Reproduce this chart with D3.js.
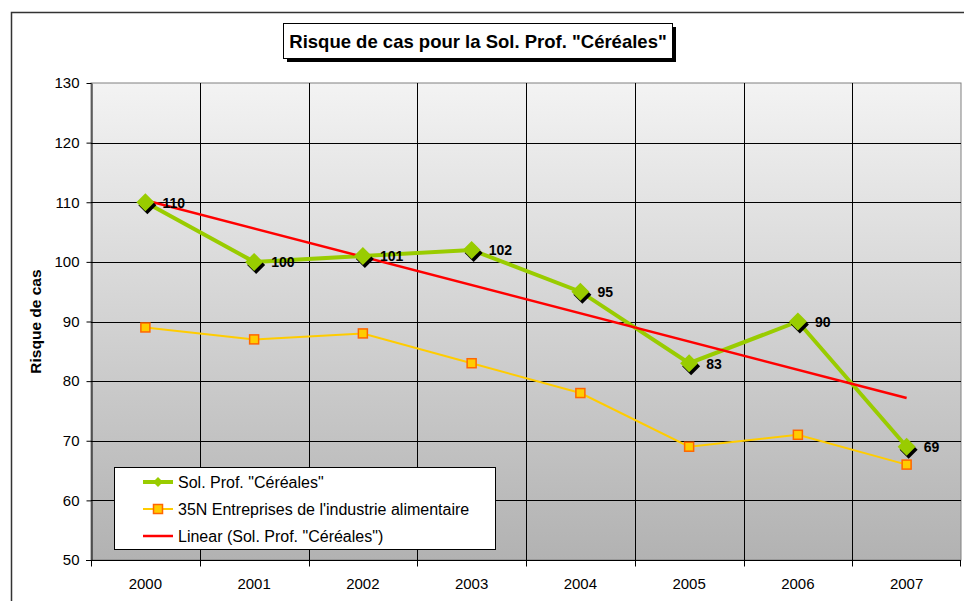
<!DOCTYPE html>
<html><head><meta charset="utf-8">
<script src="https://cdn.jsdelivr.net/npm/d3@7/dist/d3.min.js"></script>
<style>body{margin:0;background:#fff}svg{display:block;font-family:Arial,"Liberation Sans",sans-serif}</style>
</head><body><svg id="c" width="964" height="601"></svg>
<script>
const years = ["2000","2001","2002","2003","2004","2005","2006","2007"];
const cereales = [110,100,101,102,95,83,90,69];
const industrie = [89,87,88,83,78,69,71,66];
const yTicks = [50,60,70,80,90,100,110,120,130];
const titleText = 'Risque de cas pour la Sol. Prof. "Céréales"';
const yLabel = "Risque de cas";
const legendLabels = ['Sol. Prof. "Céréales"', "35N Entreprises de l'industrie alimentaire", 'Linear (Sol. Prof. "Céréales")'];

const FF = "Arial, 'Liberation Sans', sans-serif";
const svg = d3.select("#c");
const L=91,R=961,T=83,B=560;
const x = d3.scaleBand().domain(years).range([L,R]);
const y = d3.scaleLinear().domain([50,130]).range([B,T]);
const cx = d => x(d)+x.bandwidth()/2;

// outer border
svg.append("rect").attr("x",11.5).attr("y",12.5).attr("width",970).attr("height",620)
  .attr("fill","#fff").attr("stroke","#333").attr("stroke-width",1.5);

// gradient
const defs = svg.append("defs");
const g = defs.append("linearGradient").attr("id","bg").attr("x1",0).attr("y1",0).attr("x2",0).attr("y2",1);
g.append("stop").attr("offset","0%").attr("stop-color","#f3f3f3");
g.append("stop").attr("offset","100%").attr("stop-color","#b2b2b2");
svg.append("rect").attr("x",L).attr("y",T).attr("width",R-L).attr("height",B-T).attr("fill","url(#bg)")
  .attr("stroke","#808080").attr("stroke-width",1);

// gridlines
svg.append("g").selectAll("line").data(yTicks.slice(1,-1)).join("line")
  .attr("x1",L).attr("x2",R).attr("y1",d=>Math.round(y(d))+0.5).attr("y2",d=>Math.round(y(d))+0.5)
  .attr("stroke","#000").attr("stroke-width",1);
svg.append("g").selectAll("line").data(years.slice(1)).join("line")
  .attr("x1",d=>Math.round(x(d))+0.5).attr("x2",d=>Math.round(x(d))+0.5).attr("y1",T).attr("y2",B)
  .attr("stroke","#000").attr("stroke-width",1);

// axes
const ya = svg.append("g").attr("transform",`translate(${L+0.5},0)`)
  .call(d3.axisLeft(y).tickValues(yTicks).tickSize(5).tickPadding(7).tickSizeOuter(0));
ya.attr("font-family",FF).attr("font-size",15);
ya.select(".domain").attr("stroke","#000");
ya.selectAll("text").attr("fill","#000");
ya.selectAll("line").attr("stroke","#000");

const xa = svg.append("g").attr("transform",`translate(0,${B+0.5})`).attr("font-family",FF);
xa.append("line").attr("x1",L-5).attr("x2",R).attr("stroke","#000");
xa.selectAll("line.t").data(years.concat(["end"])).join("line").attr("class","t")
  .attr("x1",(d,i)=> i<years.length? Math.round(x(d))+0.5 : R-0.5)
  .attr("x2",(d,i)=> i<years.length? Math.round(x(d))+0.5 : R-0.5)
  .attr("y1",0).attr("y2",6).attr("stroke","#000");
xa.selectAll("text").data(years).join("text").attr("x",d=>cx(d)).attr("y",28)
  .attr("text-anchor","middle").attr("font-size",15).text(d=>d);

// y label
svg.append("text").attr("transform",`translate(41,${(T+B)/2}) rotate(-90)`).attr("text-anchor","middle")
  .attr("font-size",15.5).attr("font-weight","bold").text(yLabel);

// industrie line
const line = d3.line().x((d,i)=>cx(years[i])).y(d=>y(d));
svg.append("path").datum(industrie).attr("d",line).attr("fill","none").attr("stroke","#ffcc00").attr("stroke-width",2);
svg.append("g").selectAll("rect").data(industrie).join("rect")
  .attr("x",(d,i)=>cx(years[i])-4.5).attr("y",d=>y(d)-4.5).attr("width",9).attr("height",9)
  .attr("fill","#ffcc00").attr("stroke","#ff6600").attr("stroke-width",1.5);

// cereales line
svg.append("path").datum(cereales).attr("d",line).attr("fill","none").attr("stroke","#99cc00").attr("stroke-width",4);

// trend line
const xs = cereales.map((d,i)=>i+1);
const mx = d3.mean(xs), my = d3.mean(cereales);
const slope = d3.sum(xs.map((v,i)=>(v-mx)*(cereales[i]-my)))/d3.sum(xs.map(v=>(v-mx)*(v-mx)));
const icpt = my - slope*mx;
svg.append("line").attr("x1",cx(years[0])).attr("y1",y(icpt+slope*1))
  .attr("x2",cx(years[7])).attr("y2",y(icpt+slope*8)).attr("stroke","#ff0000").attr("stroke-width",2.5);

// diamonds
const dia = s => `M0,${-s}L${s},0L0,${s}L${-s},0Z`;
const mk = svg.append("g").selectAll("g").data(cereales).join("g")
  .attr("transform",(d,i)=>`translate(${cx(years[i])},${y(d)})`);
mk.append("path").attr("d",dia(9)).attr("transform","translate(2,3)").attr("fill","#000");
mk.append("path").attr("d",dia(9)).attr("fill","#99cc00");

// labels
svg.append("g").selectAll("text").data(cereales).join("text")
  .attr("x",(d,i)=>cx(years[i])+17).attr("y",d=>y(d)+5.5)
  .attr("font-size",14).attr("font-weight","bold").text(d=>d);

// title box
const tb = svg.append("g");
tb.append("rect").attr("x",287).attr("y",27).attr("width",389).attr("height",35).attr("fill","#000");
tb.append("rect").attr("x",283.5).attr("y",23.5).attr("width",389).attr("height",35).attr("fill","#fff").attr("stroke","#000").attr("stroke-width",1);
tb.append("text").attr("x",478).attr("y",47.5).attr("text-anchor","middle").attr("font-size",18.5).attr("font-weight","bold").text(titleText);

// legend
const lg = svg.append("g");
lg.append("rect").attr("x",114.5).attr("y",467.5).attr("width",381).attr("height",82).attr("fill","#fff").attr("stroke","#000");
const ly = [482,509,536];
lg.append("line").attr("x1",143).attr("x2",173).attr("y1",ly[0]).attr("y2",ly[0]).attr("stroke","#99cc00").attr("stroke-width",4);
lg.append("path").attr("d",dia(5)).attr("transform",`translate(158,${ly[0]})`).attr("fill","#99cc00");
lg.append("line").attr("x1",143).attr("x2",173).attr("y1",ly[1]).attr("y2",ly[1]).attr("stroke","#ffcc00").attr("stroke-width",2);
lg.append("rect").attr("x",153.5).attr("y",ly[1]-4.5).attr("width",9).attr("height",9).attr("fill","#ffcc00").attr("stroke","#ff6600").attr("stroke-width",1.5);
lg.append("line").attr("x1",143).attr("x2",173).attr("y1",ly[2]).attr("y2",ly[2]).attr("stroke","#ff0000").attr("stroke-width",2.5);
lg.selectAll("text").data(legendLabels).join("text").attr("x",178).attr("y",(d,i)=>ly[i]+5.5)
  .attr("font-size",16).text(d=>d);
</script></body></html>
